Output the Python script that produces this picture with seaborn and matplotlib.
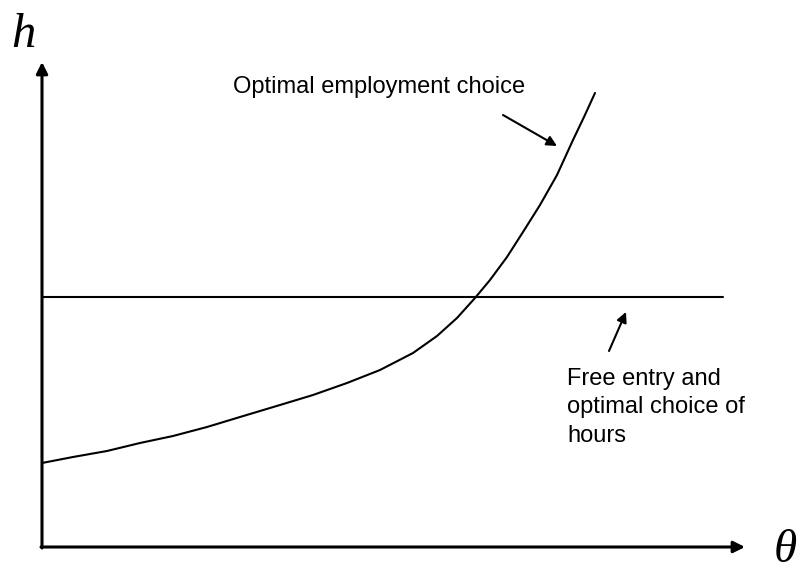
import numpy as np
import pandas as pd
import matplotlib
matplotlib.use('Agg')
import matplotlib.pyplot as plt
import seaborn as sns

theta_curve = [0, 31, 65, 98, 131, 165, 198, 238, 271, 305, 338, 371, 395,
               415, 433, 448, 465, 481, 498, 515, 531, 542, 553]
h_curve = [84, 90, 96, 104, 111, 120, 130, 142, 152, 164, 177, 194, 211,
           229, 249, 267, 290, 315, 342, 372, 407, 430, 454]
free_entry_h = 250
theta_line = [0, 681]

theta_max = 703
h_max = 485

label_emp = 'Optimal employment choice'
label_free = 'Free entry and\noptimal choice of\nhours'

curve_df = pd.DataFrame({'theta': theta_curve, 'h': h_curve})
line_df = pd.DataFrame({'theta': theta_line, 'h': [free_entry_h] * len(theta_line)})

sns.set_style("white")
plt.rcParams['font.family'] = ['Liberation Sans', 'DejaVu Sans']
plt.rcParams['text.color'] = 'black'

fig = plt.figure(figsize=(8.07, 5.72), dpi=100)
ax = fig.add_axes([0, 0, 1, 1])

sns.lineplot(x='theta', y='h', data=curve_df, color='black', linewidth=1.5,
             sort=True, solid_joinstyle='round', ax=ax)
sns.lineplot(x='theta', y='h', data=line_df, color='black', linewidth=1.5, ax=ax)

# axes with arrow heads
axis_arrow = dict(arrowstyle='-|>', color='black', lw=2.2, mutation_scale=17, shrinkA=0, shrinkB=0)
ax.annotate('', xy=(0, h_max), xytext=(0, -1), arrowprops=axis_arrow)
ax.annotate('', xy=(theta_max, 0), xytext=(-1, 0), arrowprops=axis_arrow)

# pointers to the curves
pointer = dict(arrowstyle='-|>', color='black', lw=1.5, mutation_scale=15, shrinkA=0, shrinkB=0)
ax.annotate('', xy=(515, 401), xytext=(461, 432), arrowprops=pointer)
ax.annotate('', xy=(584, 235), xytext=(567, 196), arrowprops=pointer)

ax.text(191, 454, label_emp, fontsize=17, color='black', ha='left', va='baseline')
ax.text(525, 179, label_free, fontsize=17, color='black', ha='left', va='top', linespacing=1.38)

serif = ['Liberation Serif', 'DejaVu Serif']
ax.text(-31, 500, 'h', fontsize=35, family=serif, style='italic', color='black',
        ha='left', va='baseline')
ax.text(732, -24.5, 'θ', fontsize=34, family=serif, style='italic', color='black',
        ha='left', va='bottom')

ax.set_xlim(-42, 765)
ax.set_ylim(-25, 547)
ax.set_axis_off()

plt.savefig('out.png', dpi=100)
